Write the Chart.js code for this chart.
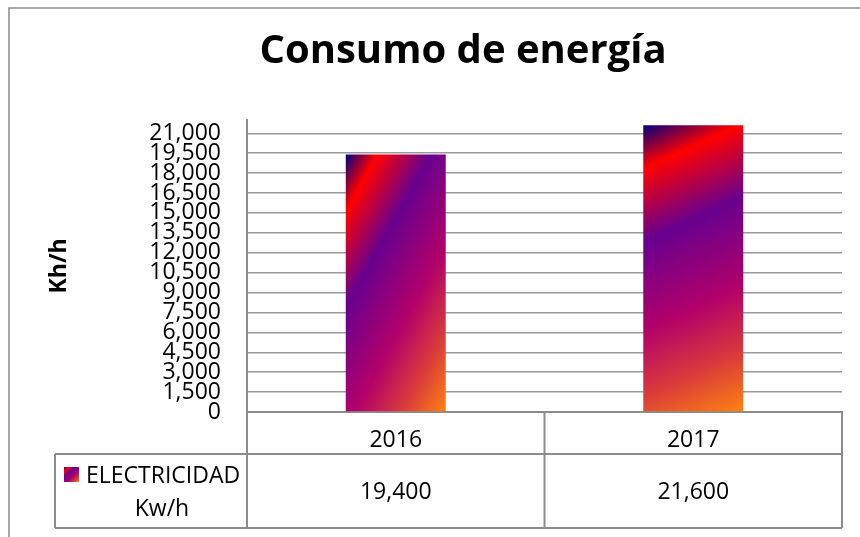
<!DOCTYPE html>
<html>
<head>
<meta charset="utf-8">
<script src="https://cdn.jsdelivr.net/npm/chart.js@4/dist/chart.umd.min.js"></script>
<style>
  html, body { margin: 0; padding: 0; background: #fff; }
  #wrap { width: 860px; height: 537px; }
</style>
</head>
<body>
<div id="wrap"><canvas id="c" width="860" height="537"></canvas></div>
<script>
// ---- data ----
const chartTitle = 'Consumo de energía';
const yAxisTitle = 'Kh/h';
const categories = ['2016', '2017'];
const seriesName = ['ELECTRICIDAD', 'Kw/h'];
const electricity = [19400, 21600];
const yTicks = [0, 1500, 3000, 4500, 6000, 7500, 9000, 10500, 12000, 13500, 15000, 16500, 18000, 19500, 21000];
const yMin = 0;
const yMax = 22000;

// ---- style ----
const FONT = "'Open Sans', sans-serif";
const LINE = '#8c8c8c';
const gradientStops = [
  [0.00, '#00007f'],
  [0.13, '#ff0000'],
  [0.35, '#68008f'],
  [0.62, '#b2006a'],
  [0.82, '#d93c3a'],
  [1.00, '#ff8210']
];
const barSlant = [1.8, 0.45];
const BAR_PCT = 0.336;
const fmt = v => Number(v).toLocaleString('en-US');

function makeGradient(ctx, left, top, right, bottom, slant) {
  const gx = slant, gy = 1;
  const dot = (right - left) * gx + (bottom - top) * gy;
  const n2 = gx * gx + gy * gy;
  const g = ctx.createLinearGradient(left, top, left + gx * dot / n2, top + gy * dot / n2);
  gradientStops.forEach(([o, c]) => g.addColorStop(o, c));
  return g;
}

function barFill(c) {
  const chart = c.chart;
  if (c.type !== 'data' || !chart.chartArea || !chart.scales.x) return '#80008a';
  const xs = chart.scales.x, ys = chart.scales.y;
  const cx = xs.getPixelForValue(c.dataIndex);
  const w = xs.width / categories.length * BAR_PCT;
  const top = ys.getPixelForValue(c.raw);
  const base = ys.getPixelForValue(0);
  return makeGradient(chart.ctx, cx - w / 2, top, cx + w / 2, base, barSlant[c.dataIndex] || 1);
}

const tablePlugin = {
  id: 'tablePlugin',
  beforeDraw(chart) {
    const ctx = chart.ctx;
    ctx.save();
    ctx.fillStyle = '#fff';
    ctx.fillRect(0, 0, chart.width, chart.height);
    ctx.strokeStyle = LINE;
    ctx.lineWidth = 1.5;
    ctx.beginPath();
    ctx.moveTo(9, chart.height);
    ctx.lineTo(9, 8);
    ctx.lineTo(chart.width, 8);
    ctx.stroke();
    // title
    ctx.fillStyle = '#000';
    ctx.font = 'bold 40px ' + FONT;
    ctx.textAlign = 'center';
    ctx.textBaseline = 'middle';
    ctx.fillText(chartTitle, 463, 52);
    ctx.restore();
  },
  afterDraw(chart) {
    const ctx = chart.ctx;
    const {left, right, bottom} = chart.chartArea;
    const xs = chart.scales.x;
    const row1 = bottom + 42, row2 = bottom + 116;
    const legLeft = 55;
    ctx.save();
    ctx.strokeStyle = LINE;
    ctx.lineWidth = 2;
    ctx.beginPath();
    ctx.moveTo(legLeft, row1); ctx.lineTo(right, row1);
    ctx.moveTo(legLeft, row2); ctx.lineTo(right, row2);
    ctx.moveTo(left, bottom); ctx.lineTo(left, row2);
    ctx.moveTo(legLeft, row1); ctx.lineTo(legLeft, row2);
    ctx.moveTo(right, bottom); ctx.lineTo(right, row2);
    for (let i = 1; i < categories.length; i++) {
      const x = (xs.getPixelForValue(i - 1) + xs.getPixelForValue(i)) / 2;
      ctx.moveTo(x, bottom); ctx.lineTo(x, row2);
    }
    ctx.stroke();
    ctx.fillStyle = '#000';
    ctx.font = '23px ' + FONT;
    ctx.textAlign = 'center';
    ctx.textBaseline = 'middle';
    const midY = (row1 + row2) / 2 + 1;
    electricity.forEach((v, i) => {
      ctx.fillText(fmt(v), xs.getPixelForValue(i), midY);
    });
    const bx = 64, by = 467, bs = 15;
    ctx.fillStyle = makeGradient(ctx, bx, by, bx + bs, by + bs, 1);
    ctx.fillRect(bx, by, bs, bs);
    ctx.fillStyle = '#000';
    ctx.textAlign = 'left';
    ctx.fillText(seriesName[0], 86, 476);
    ctx.textAlign = 'center';
    ctx.fillText(seriesName[1], 162, 509);
    ctx.restore();
  }
};

Chart.defaults.font.family = FONT;
Chart.defaults.color = '#000';

new Chart(document.getElementById('c'), {
  type: 'bar',
  data: {
    labels: categories,
    datasets: [{
      label: seriesName.join(' '),
      data: electricity,
      backgroundColor: barFill,
      borderWidth: 0,
      barPercentage: BAR_PCT,
      categoryPercentage: 1
    }]
  },
  options: {
    responsive: false,
    animation: false,
    events: [],
    layout: { padding: { top: 120, left: 0, right: 18, bottom: 0 } },
    plugins: {
      legend: { display: false },
      tooltip: { enabled: false },
      title: { display: false }
    },
    scales: {
      x: {
        grid: { display: false },
        border: { display: true, color: LINE, width: 2 },
        ticks: { font: { size: 23 }, padding: 7, color: '#000' },
        afterFit: s => { s.height = 125; }
      },
      y: {
        min: yMin,
        max: yMax,
        bounds: 'data',
        grid: { color: '#9a9a9a', lineWidth: 1.5, drawTicks: false },
        border: { display: true, color: LINE, width: 2 },
        afterBuildTicks: s => { s.ticks = yTicks.map(v => ({ value: v })); },
        ticks: {
          autoSkip: false,
          padding: 26,
          font: { size: 23, lineHeight: 0.85 },
          color: '#000',
          callback: v => fmt(v)
        },
        title: {
          display: true,
          text: yAxisTitle,
          font: { size: 23, weight: 'bold', lineHeight: 1.2 },
          color: '#000',
          padding: { top: 46, bottom: 0 }
        },
        afterFit: s => { s.width = 247; }
      }
    }
  },
  plugins: [tablePlugin]
});
</script>
</body>
</html>
